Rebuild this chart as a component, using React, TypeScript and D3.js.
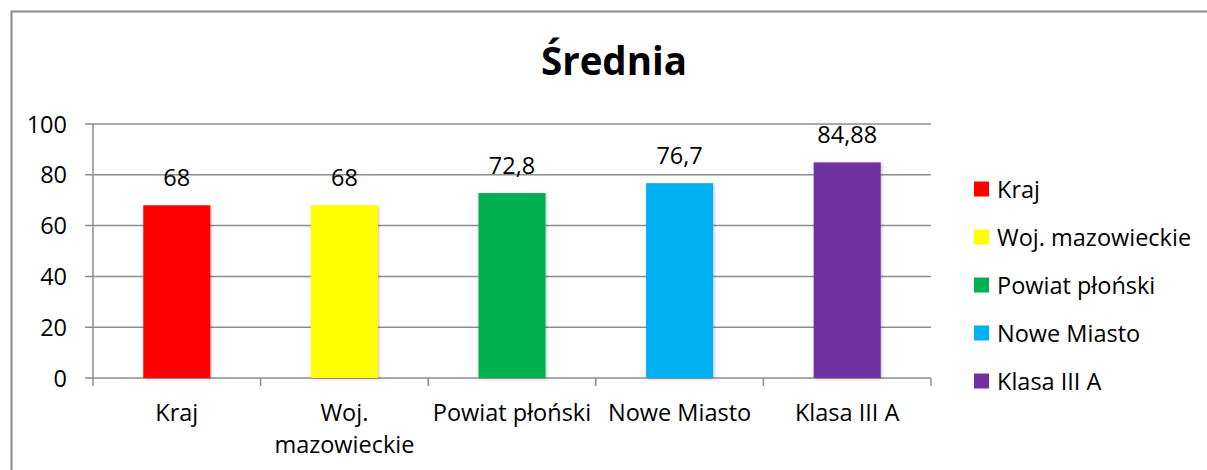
import * as d3 from "d3";

const categories = ["Kraj", "Woj. mazowieckie", "Powiat płoński", "Nowe Miasto", "Klasa III A"];
const values = [68, 68, 72.8, 76.7, 84.88];
const valueLabels = ["68", "68", "72,8", "76,7", "84,88"];
const colors = ["#FF0000", "#FFFF00", "#00B050", "#00B0F0", "#7030A0"];
const yTicks = [0, 20, 40, 60, 80, 100];
// etykiety osi X, zawinięte tak jak w oryginale
const xTickLines = [["Kraj"], ["Woj.", "mazowieckie"], ["Powiat płoński"], ["Nowe Miasto"], ["Klasa III A"]];

const W = 1207;
const H = 470;
const FONT = "'Open Sans', sans-serif";
const GRID = "#8c8c8c";
const FS = 23.5;

export default function App() {
  const x = d3.scaleBand<string>().domain(categories).range([93, 931]).paddingInner(0.6).paddingOuter(0.3);
  const band = d3.scaleBand<string>().domain(categories).range([93, 931]);
  const y = d3.scaleLinear().domain([0, 100]).range([378, 124]);

  return (
    <svg
      width={W}
      height={H}
      style={{ position: "absolute", left: 0, top: 0, background: "#fff" }}
      fontFamily={FONT}
    >
      <defs>
        <filter id="shadow" x="-20%" y="-10%" width="140%" height="120%">
          <feDropShadow dx="1" dy="1" stdDeviation="1.5" floodColor="#000" floodOpacity="0.25" />
        </filter>
      </defs>

      {/* ramka wykresu */}
      <path d={`M11.5,${H} V11.5 H${W}`} fill="none" stroke="#8a8a8a" strokeWidth={2} />

      <text x={614} y={75} textAnchor="middle" fontSize={38.5} fontWeight="bold" fill="#000">
        Średnia
      </text>

      {/* siatka */}
      {yTicks.map((t) => (
        <g key={t}>
          <line x1={85} x2={931} y1={y(t)} y2={y(t)} stroke={GRID} strokeWidth={1.5} />
          <text x={67} y={y(t) + 8.5} textAnchor="end" fontSize={FS} fill="#000">
            {t}
          </text>
        </g>
      ))}
      <line x1={93} x2={93} y1={124} y2={386} stroke={GRID} strokeWidth={1.5} />
      {categories.map((c) => (
        <line key={c} x1={band(c)! + band.bandwidth()} x2={band(c)! + band.bandwidth()} y1={378} y2={386} stroke={GRID} strokeWidth={1.5} />
      ))}

      {/* słupki */}
      {categories.map((c, i) => (
        <g key={c}>
          <rect
            x={x(c)}
            y={y(values[i])}
            width={x.bandwidth()}
            height={y(0) - y(values[i])}
            fill={colors[i]}
            filter="url(#shadow)"
          />
          <text x={x(c)! + x.bandwidth() / 2} y={y(values[i]) - 19} textAnchor="middle" fontSize={FS} fill="#000">
            {valueLabels[i]}
          </text>
          {xTickLines[i].map((line, j) => (
            <text key={j} x={band(c)! + band.bandwidth() / 2} y={421 + j * 32} textAnchor="middle" fontSize={FS} fill="#000">
              {line}
            </text>
          ))}
        </g>
      ))}

      {/* legenda */}
      {categories.map((c, i) => (
        <g key={c} transform={`translate(974, ${189 + i * 48})`}>
          <rect x={0} y={-7.5} width={15} height={15} fill={colors[i]} />
          <text x={23} y={8.5} fontSize={FS} fill="#000">
            {c}
          </text>
        </g>
      ))}
    </svg>
  );
}
